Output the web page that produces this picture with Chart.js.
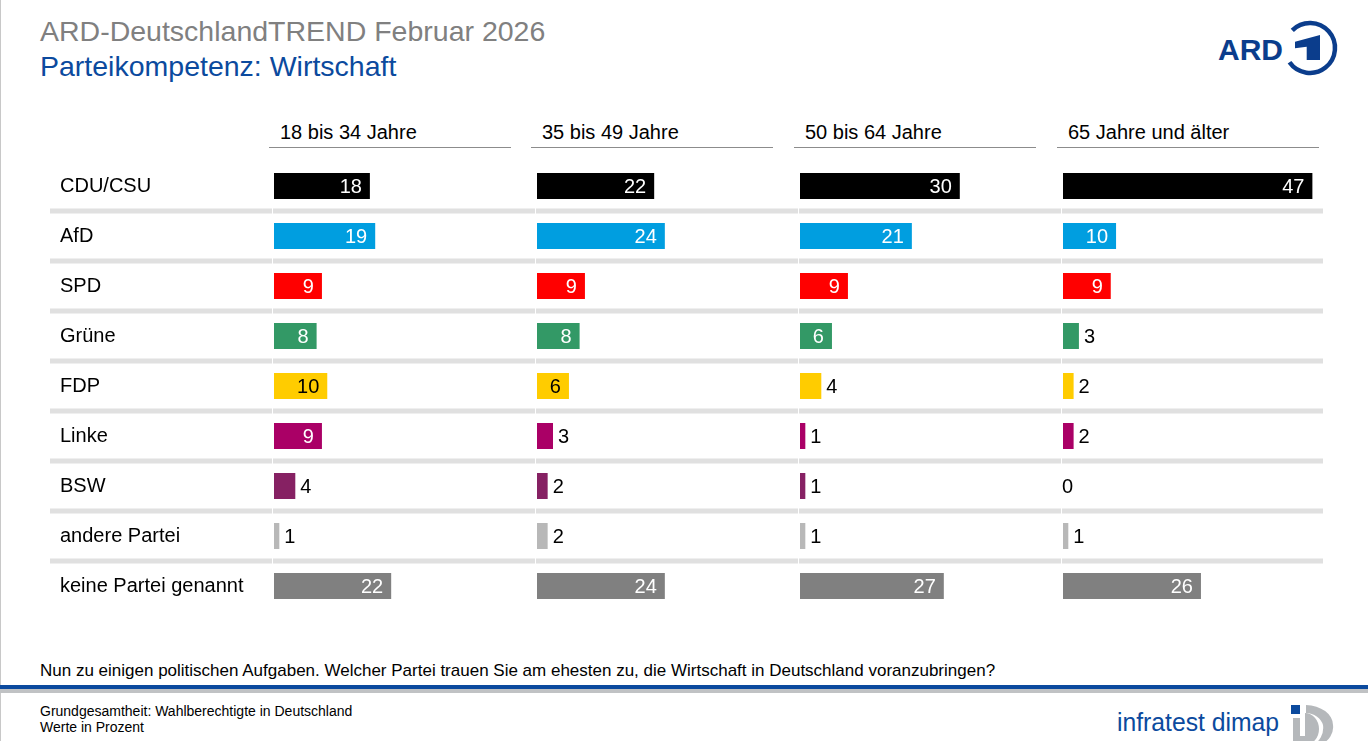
<!DOCTYPE html>
<html lang="de">
<head>
<meta charset="utf-8">
<title>Parteikompetenz: Wirtschaft</title>
<script src="https://cdn.jsdelivr.net/npm/chart.js@4.4.1/dist/chart.umd.min.js"></script>
<style>
  html, body { margin: 0; padding: 0; background: #fff; }
  body { width: 1368px; height: 741px; position: relative; overflow: hidden;
         font-family: Arial, "Liberation Sans", sans-serif; }
  .frame { position: absolute; left: 0; top: 0; width: 1px; height: 741px; background: #c8c8c8; }
  .abs { position: absolute; white-space: nowrap; }
  #title { left: 40px; top: 15px; font-size: 28.5px; line-height: 32px; color: #808080; }
  #subtitle { left: 40px; top: 50px; font-size: 28.5px; line-height: 32px; color: #0b4a9e; }
  .head { font-size: 20px; line-height: 22px; color: #000; top: 121px; padding-left: 11px;
          border-bottom: 1.5px solid #8c8c8c; height: 27px; box-sizing: border-box; }
  canvas { position: absolute; }
  #question { left: 40px; top: 661px; font-size: 17px; line-height: 20px; color: #000; }
  .rule-blue { left: 0; top: 685px; width: 1368px; height: 4px; background: #0b4a9e; }
  .rule-grey { left: 0; top: 689px; width: 1368px; height: 4px; background: #c0c2c4; }
  #base { left: 40px; top: 703px; font-size: 14px; line-height: 16px; color: #000; }
</style>
</head>
<body>
<div class="frame"></div>
<div id="title" class="abs">ARD-DeutschlandTREND Februar 2026</div>
<div id="subtitle" class="abs">Parteikompetenz: Wirtschaft</div>

<svg class="abs" style="left:1210px;top:14px" width="130" height="66" viewBox="0 0 130 66">
  <text x="8" y="46" font-family="Arial, 'Liberation Sans', sans-serif" font-weight="bold" font-size="30" fill="#0b3d8c">ARD</text>
  <path d="M 82.3 16.3 A 25 25 0 1 1 79.5 48.3" fill="none" stroke="#0b3d8c" stroke-width="4.5"/>
  <path d="M 85 27.7 L 110 21 L 110 46 L 96.7 46 L 96.7 32.7 L 85 34.3 Z" fill="#0b3d8c"/>
</svg>

<div id="heads"></div>

<canvas id="c0"></canvas>
<canvas id="c1"></canvas>
<canvas id="c2"></canvas>
<canvas id="c3"></canvas>

<div id="question" class="abs">Nun zu einigen politischen Aufgaben. Welcher Partei trauen Sie am ehesten zu, die Wirtschaft in Deutschland voranzubringen?</div>
<div class="abs rule-blue"></div>
<div class="abs rule-grey"></div>
<div id="base" class="abs">Grundgesamtheit: Wahlberechtigte in Deutschland<br>Werte in Prozent</div>

<svg class="abs" style="left:1110px;top:700px" width="258" height="41" viewBox="0 0 258 41">
  <text x="7" y="31" font-family="'Liberation Sans Narrow', Arial, sans-serif" font-size="26" fill="#0b4a9e" textLength="162" lengthAdjust="spacingAndGlyphs">infratest dimap</text>
  <rect x="181" y="5" width="9" height="9" fill="#0b4a9e"/>
  <path d="M 183 18 L 190 18 L 190 36 L 195 36 L 195 13 A 14 16 0 0 1 195 45 L 183 45 Z" fill="#b5b8bb"/>
  <path d="M 196 5 A 28 20 0 0 1 223 25 A 24 20 0 0 1 210 45 L 202 45 A 16 18 0 0 0 213 25 A 18 16 0 0 0 196 13 Z" fill="#b5b8bb"/>
</svg>

<script>
// Daten
const parties = ['CDU/CSU', 'AfD', 'SPD', 'Grüne', 'FDP', 'Linke', 'BSW', 'andere Partei', 'keine Partei genannt'];
const partyColors = ['#000000', '#009ee0', '#ff0000', '#339966', '#ffcc00', '#aa0066', '#862163', '#b8b8b8', '#808080'];
const groups = ['18 bis 34 Jahre', '35 bis 49 Jahre', '50 bis 64 Jahre', '65 Jahre und älter'];

const age18to34 = [18, 19, 9, 8, 10, 9, 4, 1, 22];
const age35to49 = [22, 24, 9, 8, 6, 3, 2, 2, 24];
const age50to64 = [30, 21, 9, 6, 4, 1, 1, 1, 27];
const age65plus = [47, 10, 9, 3, 2, 2, 0, 1, 26];

const groupValues = [age18to34, age35to49, age50to64, age65plus];

const X_MAX = 49;
const FONT = 'Arial, "Liberation Sans", sans-serif';

// Spaltenköpfe
const heads = document.getElementById('heads');
const headLeft = [269, 531, 794, 1057];
const headWidth = [242, 242, 242, 262];
groups.forEach((g, i) => {
    const d = document.createElement('div');
    d.className = 'abs head';
    d.style.left = headLeft[i] + 'px';
    d.style.width = headWidth[i] + 'px';
    d.textContent = g;
    heads.appendChild(d);
});

// Trennlinien zwischen den Zeilen
const separatorPlugin = {
    id: 'separators',
    beforeDatasetsDraw(chart, args, opts) {
        const ctx = chart.ctx;
        const y = chart.scales.y;
        const area = chart.chartArea;
        ctx.save();
        ctx.fillStyle = '#e0e0e0';
        for (let i = 0; i < parties.length - 1; i++) {
            const yy = (y.getPixelForValue(i) + y.getPixelForValue(i + 1)) / 2;
            if (opts.withLabels) {
                ctx.fillRect(0, yy - 2.5, area.left - 2, 5);
                ctx.fillRect(area.left - 1, yy - 2.5, chart.width - area.left + 1, 5);
            } else {
                ctx.fillRect(0, yy - 2.5, chart.width, 5);
            }
        }
        ctx.restore();
    }
};

// Werte an den Balken
const valueLabelPlugin = {
    id: 'valueLabels',
    afterDatasetsDraw(chart) {
        const ctx = chart.ctx;
        const meta = chart.getDatasetMeta(0);
        const data = chart.data.datasets[0].data;
        ctx.save();
        ctx.font = '20px ' + FONT;
        ctx.textBaseline = 'middle';
        meta.data.forEach((bar, i) => {
            const v = data[i];
            if (v >= 6) {
                ctx.textAlign = 'right';
                ctx.fillStyle = i === 4 ? '#000' : '#fff';
                ctx.fillText(String(v), bar.x - 8, bar.y + 1);
            } else {
                ctx.textAlign = 'left';
                ctx.fillStyle = '#000';
                ctx.fillText(String(v), v === 0 ? bar.x - 1 : bar.x + 5, bar.y + 1);
            }
        });
        ctx.restore();
    }
};

const canvasLeft = [50, 536, 799, 1062];
const canvasWidth = [485, 262, 262, 261];

groupValues.forEach((values, i) => {
    const cv = document.getElementById('c' + i);
    cv.width = canvasWidth[i];
    cv.height = 450;
    cv.style.left = canvasLeft[i] + 'px';
    cv.style.top = '161px';
    cv.style.width = canvasWidth[i] + 'px';
    cv.style.height = '450px';

    const withLabels = i === 0;

    new Chart(cv, {
        type: 'bar',
        data: {
            labels: parties,
            datasets: [{
                data: values,
                backgroundColor: partyColors,
                barThickness: 26,
                borderWidth: 0,
                inflateAmount: 0
            }]
        },
        options: {
            indexAxis: 'y',
            responsive: false,
            animation: false,
            layout: { padding: { left: withLabels ? 10 : 1, right: 0, top: 0, bottom: 0 } },
            plugins: {
                legend: { display: false },
                tooltip: { enabled: false },
                separators: { withLabels: withLabels }
            },
            scales: {
                x: { display: false, min: 0, max: X_MAX },
                y: {
                    display: withLabels,
                    grid: { display: false },
                    border: { display: false },
                    ticks: {
                        crossAlign: 'far',
                        padding: 0,
                        color: '#000',
                        font: { family: FONT, size: 20 }
                    },
                    afterFit(scale) {
                        if (withLabels) {
                            scale.width = 214;
                            scale.paddingTop = 0;
                            scale.paddingBottom = 0;
                        }
                    }
                }
            }
        },
        plugins: [separatorPlugin, valueLabelPlugin]
    });
});
</script>
</body>
</html>
